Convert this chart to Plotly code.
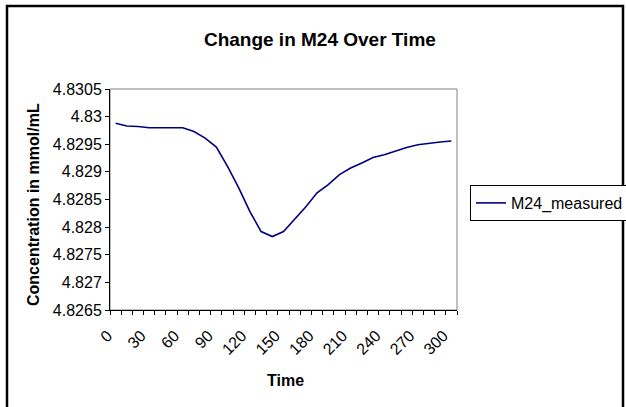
import plotly.graph_objects as go

# Sampling times (one category every 10 units)
times = list(range(0, 310, 10))

# Measured M24 concentration (mmol/mL)
m24_measured = [
    4.82988, 4.82983, 4.82982, 4.82980, 4.82980, 4.82980, 4.82980, 4.82973,
    4.82961, 4.82945, 4.82910, 4.82871, 4.82828, 4.82792, 4.82783, 4.82792,
    4.82814, 4.82837, 4.82862, 4.82877, 4.82895, 4.82907, 4.82916, 4.82926,
    4.82931, 4.82938, 4.82944, 4.82949, 4.82952, 4.82954, 4.82956,
]

x_tick_values = list(range(0, 310, 30))
y_tick_values = [4.8265, 4.827, 4.8275, 4.828, 4.8285, 4.829, 4.8295, 4.83, 4.8305]
y_tick_labels = ["4.8265", "4.827", "4.8275", "4.828", "4.8285", "4.829", "4.8295", "4.83", "4.8305"]

FONT = "Liberation Sans, Arial, sans-serif"

W, H = 626, 407
L, R, T, B = 110, 169, 89, 97
pw, ph = W - L - R, H - T - B


def px_x(p):
    return (p - L) / pw


def px_y(p):
    return (H - B - p) / ph


fig = go.Figure()
fig.add_trace(go.Scatter(
    x=times, y=m24_measured, mode="lines", name="M24_measured",
    line=dict(color="#000080", width=1.6),
))

fig.update_layout(
    width=W, height=H,
    margin=dict(l=L, r=R, t=T, b=B, autoexpand=False),
    paper_bgcolor="white", plot_bgcolor="white",
    font=dict(family=FONT, size=16, color="black"),
    title=dict(
        text="<b>Change in M24 Over Time</b>",
        font=dict(family=FONT, size=19, color="black"),
        x=0.511, xref="container", xanchor="center",
        y=1 - 39 / H, yanchor="middle",
    ),
    showlegend=True,
    legend=dict(
        x=px_x(470), y=px_y(185), xanchor="left", yanchor="top",
        bordercolor="black", borderwidth=1, bgcolor="white",
        font=dict(family=FONT, size=16, color="black"),
        tracegroupgap=0,
    ),
)

fig.update_xaxes(
    range=[-5, 305], tickmode="array", tickvals=x_tick_values,
    ticktext=[str(v) for v in x_tick_values], tickangle=-45,
    ticks="", showgrid=False, zeroline=False, automargin=False,
    showline=True, linecolor="black", linewidth=1,
    ticklabelstandoff=9, ticklabelshift=-8,
    tickfont=dict(family=FONT, size=16, color="black"),
    minor=dict(ticks="outside", tick0=-5, dtick=10, ticklen=4,
               tickcolor="black", showgrid=False),
)
fig.update_yaxes(
    range=[4.8265, 4.8305], tickmode="array", tickvals=y_tick_values,
    ticktext=y_tick_labels, ticks="outside", ticklen=4, tickcolor="black",
    showgrid=False, zeroline=False, automargin=False,
    showline=True, linecolor="black", linewidth=1,
    tickfont=dict(family=FONT, size=16, color="black"),
)

# Grey border on the plot area
fig.add_shape(type="rect", xref="paper", yref="paper", x0=0, x1=1, y0=0, y1=1,
              line=dict(color="#808080", width=1), layer="below")
# Outer chart frame
fig.add_shape(type="rect", xref="paper", yref="paper",
              x0=px_x(7), x1=px_x(623), y0=px_y(412), y1=px_y(6),
              line=dict(color="black", width=2.5), layer="above")

# Axis titles
fig.add_annotation(text="<b>Concentration in mmol/mL</b>", textangle=-90,
                   xref="paper", yref="paper", x=px_x(33), y=px_y(205),
                   xanchor="center", yanchor="middle",
                   showarrow=False, font=dict(family=FONT, size=16, color="black"))
fig.add_annotation(text="<b>Time</b>", xref="paper", yref="paper",
                   x=px_x(285), y=px_y(380), xanchor="center", yanchor="middle",
                   showarrow=False, font=dict(family=FONT, size=16, color="black"))

fig.write_html("out.html")
